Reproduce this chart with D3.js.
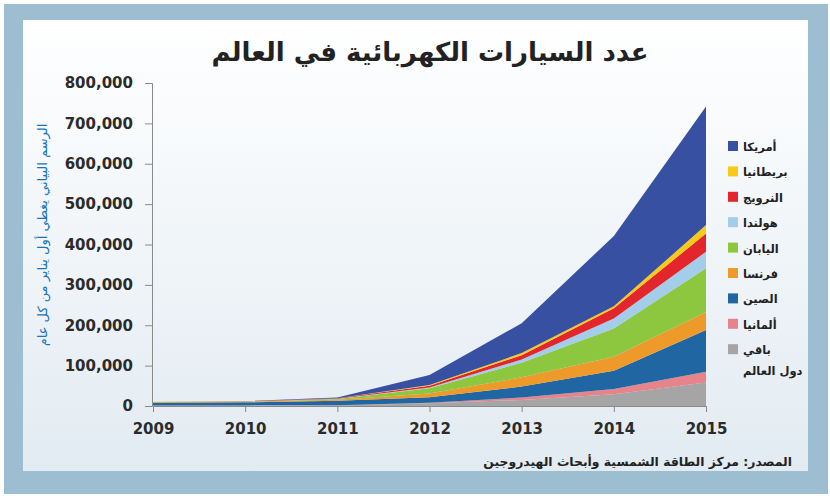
<!DOCTYPE html>
<html lang="ar">
<head>
    <meta charset="UTF-8">
    <title>عدد السيارات الكهربائية في العالم</title>
    <script src="https://d3js.org/d3.v7.min.js"></script>
    <style>
        * { margin: 0; padding: 0; box-sizing: border-box; }
        body { background: #fff; font-family: "DejaVu Sans", Arial, sans-serif; }
    </style>
</head>
<body>
    <div id="chart"></div>
    <script>
        // data (vehicles, 1 Jan of each year)
        const years = [2009, 2010, 2011, 2012, 2013, 2014, 2015];
        const seriesKeys = ["rest", "germany", "china", "france", "japan", "netherlands", "norway", "uk", "usa"];
        const seriesNames = {
            usa: "أمريكا", uk: "بريطانيا", norway: "النرويج", netherlands: "هولندا",
            japan: "اليابان", france: "فرنسا", china: "الصين", germany: "ألمانيا", rest: "باقي"
        };
        const rest        = [800, 1000, 1000, 6600, 15000, 29000, 58000];
        const germany     = [400, 500, 1000, 1500, 6000, 13000, 27000];
        const china       = [6800, 7500, 11000, 13400, 27000, 45000, 103000];
        const france      = [1500, 1500, 2500, 9500, 23000, 35000, 45000];
        const japan       = [300, 500, 2000, 13000, 36000, 70000, 108000];
        const netherlands = [100, 200, 500, 2000, 8000, 25000, 41000];
        const norway      = [300, 300, 1000, 4000, 11000, 25000, 45000];
        const uk          = [100, 200, 500, 2000, 5000, 5000, 21000];
        const usa         = [200, 300, 1500, 25000, 74000, 174000, 294000];
        const yTicks = [0, 100000, 200000, 300000, 400000, 500000, 600000, 700000, 800000];
        const legendOrder = ["usa", "uk", "norway", "netherlands", "japan", "france", "china", "germany", "rest"];

        const colors = {
            usa: "#3850a2", uk: "#f7c918", norway: "#e2262c", netherlands: "#a3cdea",
            japan: "#8dc63f", france: "#ee9a2b", china: "#1f66a2", germany: "#e5848b", rest: "#a5a5a5"
        };

        const values = { rest, germany, china, france, japan, netherlands, norway, uk, usa };
        const data = years.map((yr, i) => {
            const row = { year: yr };
            seriesKeys.forEach(k => row[k] = values[k][i]);
            return row;
        });

        const W = 830, H = 498;
        const margin = { top: 83, right: 124, bottom: 92, left: 153 },
              width = W - margin.left - margin.right,
              height = H - margin.top - margin.bottom;

        const svg = d3.select("#chart").append("svg")
            .attr("width", W).attr("height", H);

        // frame + panel
        const defs = svg.append("defs");
        const grad = defs.append("linearGradient").attr("id", "panelGrad")
            .attr("x1", 0).attr("y1", 0).attr("x2", 0).attr("y2", 1);
        grad.append("stop").attr("offset", "0%").attr("stop-color", "#ffffff");
        grad.append("stop").attr("offset", "100%").attr("stop-color", "#e2ebf2");

        svg.append("rect").attr("x", 4).attr("y", 4).attr("width", 824).attr("height", 490)
            .attr("fill", "#9dbdd0");
        svg.append("rect").attr("x", 23).attr("y", 20).attr("width", 785).attr("height", 451)
            .attr("fill", "url(#panelGrad)");

        svg.append("text")
            .attr("x", 430).attr("y", 61)
            .attr("text-anchor", "middle")
            .style("font-family", "'DejaVu Sans', sans-serif")
            .style("font-size", "26px")
            .style("font-weight", "bold")
            .style("fill", "#222")
            .text("عدد السيارات الكهربائية في العالم");

        const g = svg.append("g").attr("transform", `translate(${margin.left},${margin.top})`);

        const x = d3.scaleLinear().domain([2009, 2015]).range([0, width]);
        const y = d3.scaleLinear().domain([0, 800000]).range([height, 0]);

        const stack = d3.stack().keys(seriesKeys);
        const layers = stack(data);

        const area = d3.area()
            .x(d => x(d.data.year))
            .y0(d => y(d[0]))
            .y1(d => y(d[1]));

        g.selectAll(".layer")
            .data(layers)
            .join("path")
            .attr("class", "layer")
            .attr("fill", d => colors[d.key])
            .attr("d", area);

        // axes
        const yAxis = g.append("g")
            .attr("transform", "translate(-1,0)")
            .call(d3.axisLeft(y).tickValues(yTicks).tickSize(7).tickPadding(12)
                .tickFormat(d3.format(",")));
        const xAxis = g.append("g")
            .attr("transform", `translate(0,${height})`)
            .call(d3.axisBottom(x).tickValues(years).tickSize(6).tickPadding(11)
                .tickFormat(d3.format("d")));

        [yAxis, xAxis].forEach(a => {
            a.selectAll(".domain").attr("stroke", "#8a8a8a");
            a.selectAll(".tick line").attr("stroke", "#8a8a8a");
            a.selectAll("text")
                .style("font-family", "'DejaVu Sans', sans-serif")
                .style("font-size", "15px")
                .style("font-weight", "bold")
                .style("fill", "#2b2b2b");
        });

        // y title
        svg.append("text")
            .attr("transform", "translate(47,235) rotate(-90)")
            .attr("text-anchor", "middle")
            .style("font-family", "'DejaVu Sans', sans-serif")
            .style("font-size", "13px")
            .style("fill", "#1b75bc")
            .text("الرسم البياني يغطي أول يناير من كل عام");

        // legend
        const legend = svg.append("g").attr("transform", "translate(728,146)");
        legendOrder.forEach((k, i) => {
            const row = legend.append("g").attr("transform", `translate(0, ${i * 25.4})`);
            row.append("rect")
                .attr("x", 0).attr("y", -5)
                .attr("width", 10).attr("height", 10)
                .attr("fill", colors[k]);
            row.append("text")
                .attr("x", 15).attr("y", 5)
                .style("font-family", "'DejaVu Sans', sans-serif")
                .style("font-size", "11.5px")
                .style("font-weight", "bold")
                .style("fill", "#222")
                .text(seriesNames[k]);
            if (k === "rest") {
                row.append("text")
                    .attr("x", 15).attr("y", 26)
                    .style("font-family", "'DejaVu Sans', sans-serif")
                    .style("font-size", "11.5px")
                    .style("font-weight", "bold")
                    .style("fill", "#222")
                    .text("دول العالم");
            }
        });

        // source
        svg.append("text")
            .attr("x", 792).attr("y", 466)
            .attr("text-anchor", "end")
            .style("font-family", "'DejaVu Sans', sans-serif")
            .style("font-size", "12.4px")
            .style("font-weight", "bold")
            .style("fill", "#222")
            .text("المصدر: مركز الطاقة الشمسية وأبحاث الهيدروجين");
    </script>
</body>
</html>
